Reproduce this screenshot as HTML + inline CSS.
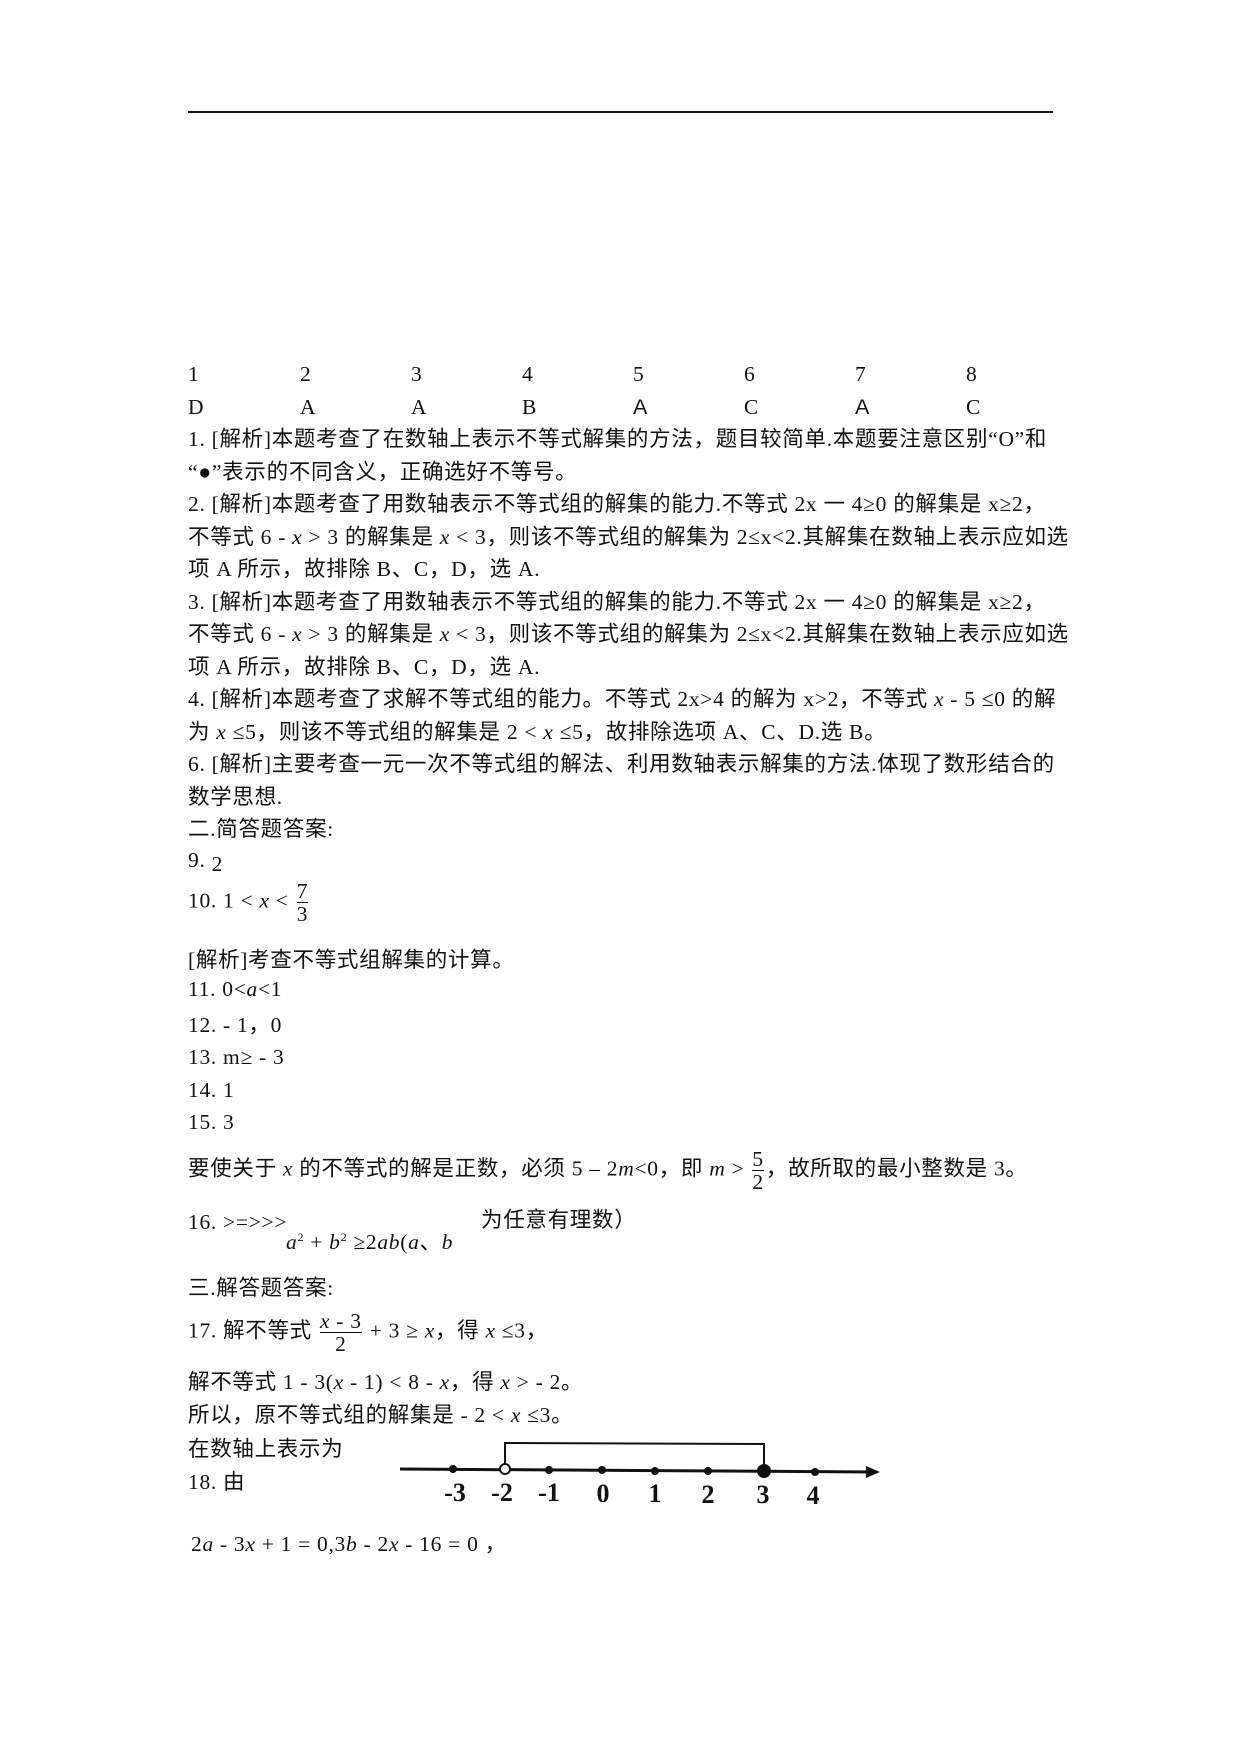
<!DOCTYPE html>
<html><head><meta charset="utf-8"><style>
body{margin:0;background:#fff;}
.pg{position:relative;width:1240px;height:1754px;overflow:hidden;font-family:"Liberation Serif","Noto Sans CJK SC",serif;font-size:21.5px;color:#111;}
.l{position:absolute;left:188px;white-space:nowrap;line-height:24px;letter-spacing:0.7px;}
.c{font-family:"Liberation Sans","Noto Sans CJK SC",sans-serif;}
i{font-style:italic;}
.fr{display:inline-block;vertical-align:middle;text-align:center;line-height:22px;margin:0 2px;}
.fr span{display:block;}
.fr .t{border-bottom:1px solid #111;}
</style></head><body><div class="pg">
<div style="position:absolute;left:188px;top:111px;width:865px;height:2px;background:#111"></div>

<div class="l" style="top:362px;left:188px">1</div>
<div class="l" style="top:362px;left:300px">2</div>
<div class="l" style="top:362px;left:411px">3</div>
<div class="l" style="top:362px;left:522px">4</div>
<div class="l" style="top:362px;left:633px">5</div>
<div class="l" style="top:362px;left:744px">6</div>
<div class="l" style="top:362px;left:855px">7</div>
<div class="l" style="top:362px;left:966px">8</div>
<div class="l" style="top:395px;left:188px">D</div>
<div class="l" style="top:395px;left:300px">A</div>
<div class="l" style="top:395px;left:411px">A</div>
<div class="l" style="top:395px;left:522px">B</div>
<div class="l c" style="top:395px;left:633px">A</div>
<div class="l" style="top:395px;left:744px">C</div>
<div class="l c" style="top:395px;left:855px">A</div>
<div class="l" style="top:395px;left:966px">C</div>

<div class="l" style="top:427px">1. [解析]本题考查了在数轴上表示不等式解集的方法，题目较简单.本题要注意区别“O”和</div>
<div class="l" style="top:460px">“●”表示的不同含义，正确选好不等号。</div>
<div class="l" style="top:492px">2. [解析]本题考查了用数轴表示不等式组的解集的能力.不等式 2x 一 4≥0 的解集是 x≥2，</div>
<div class="l" style="top:525px">不等式 6 - <i>x</i> &gt; 3 的解集是 <i>x</i> &lt; 3，则该不等式组的解集为 2≤x&lt;2.其解集在数轴上表示应如选</div>
<div class="l" style="top:557px">项 A 所示，故排除 B、C，D，选 A.</div>
<div class="l" style="top:590px">3. [解析]本题考查了用数轴表示不等式组的解集的能力.不等式 2x 一 4≥0 的解集是 x≥2，</div>
<div class="l" style="top:622px">不等式 6 - <i>x</i> &gt; 3 的解集是 <i>x</i> &lt; 3，则该不等式组的解集为 2≤x&lt;2.其解集在数轴上表示应如选</div>
<div class="l" style="top:655px">项 A 所示，故排除 B、C，D，选 A.</div>
<div class="l" style="top:687px">4. [解析]本题考查了求解不等式组的能力。不等式 2x&gt;4 的解为 x&gt;2，不等式 <i>x</i> - 5 ≤0 的解</div>
<div class="l" style="top:720px">为 <i>x</i> ≤5，则该不等式组的解集是 2 &lt; <i>x</i> ≤5，故排除选项 A、C、D.选 B。</div>
<div class="l" style="top:752px">6. [解析]主要考查一元一次不等式组的解法、利用数轴表示解集的方法.体现了数形结合的</div>
<div class="l" style="top:785px">数学思想.</div>
<div class="l" style="top:817px">二.简答题答案:</div>
<div class="l" style="top:848px">9. <span style="position:relative;top:4px">2</span></div>
<div class="l" style="top:880px;line-height:22px">10. 1 &lt; <i>x</i> &lt; <span class="fr"><span class="t">7</span><span>3</span></span></div>
<div class="l" style="top:948px">[解析]考查不等式组解集的计算。</div>
<div class="l" style="top:977px">11. 0&lt;<i>a</i>&lt;1</div>
<div class="l" style="top:1013px">12. - 1，0</div>
<div class="l" style="top:1045px">13. m≥ - 3</div>
<div class="l" style="top:1078px">14. 1</div>
<div class="l" style="top:1110px">15. 3</div>
<div class="l" style="top:1148px;line-height:22px">要使关于 <i>x</i> 的不等式的解是正数，必须 5 – 2<i>m</i>&lt;0，即 <i>m</i> &gt; <span class="fr"><span class="t">5</span><span>2</span></span>，故所取的最小整数是 3。</div>
<div class="l" style="top:1210px">16. &gt;=&gt;&gt;&gt;</div>
<div class="l" style="top:1225px;left:286px"><i>a</i><sup style="font-size:12px">2</sup> + <i>b</i><sup style="font-size:12px">2</sup> ≥2<i>ab</i>(<i>a</i>、<i>b</i></div>
<div class="l" style="top:1208px;left:481px">为任意有理数）</div>
<div class="l" style="top:1276px">三.解答题答案:</div>
<div class="l" style="top:1310px;line-height:22px">17. 解不等式 <span class="fr"><span class="t"><i>x</i> - 3</span><span>2</span></span> + 3 ≥ <i>x</i>，得 <i>x</i> ≤3，</div>
<div class="l" style="top:1370px">解不等式 1 - 3(<i>x</i> - 1) &lt; 8 - <i>x</i>，得 <i>x</i> &gt; - 2。</div>
<div class="l" style="top:1403px">所以，原不等式组的解集是 - 2 &lt; <i>x</i> ≤3。</div>
<div class="l" style="top:1437px">在数轴上表示为</div>
<div class="l" style="top:1470px">18. 由</div>
<div class="l" style="top:1532px;left:191px">2<i>a</i> - 3<i>x</i> + 1 = 0,3<i>b</i> - 2<i>x</i> - 16 = 0 ，</div>

<svg style="position:absolute;left:0;top:0" width="1240" height="1754">
<line x1="400" y1="1469" x2="874" y2="1472" stroke="#111" stroke-width="3"/>
<polygon points="880,1472 866,1466 866,1478" fill="#111"/>
<polyline points="505,1467 505,1443 764,1444 764,1467" fill="none" stroke="#111" stroke-width="2"/>
<g fill="#111">
<circle cx="453" cy="1469" r="4"/><circle cx="549" cy="1470" r="4"/><circle cx="602" cy="1470" r="4"/>
<circle cx="655" cy="1471" r="4"/><circle cx="708" cy="1471" r="4"/><circle cx="764" cy="1471" r="7"/><circle cx="815" cy="1472" r="4"/>
</g>
<circle cx="505" cy="1469" r="5" fill="#fff" stroke="#111" stroke-width="2"/>
<g font-family="Liberation Serif, serif" font-size="26" font-weight="bold" fill="#111" text-anchor="middle">
<text x="455" y="1501">-3</text><text x="502" y="1501">-2</text><text x="549" y="1501">-1</text><text x="603" y="1502">0</text>
<text x="655" y="1502">1</text><text x="708" y="1503">2</text><text x="763" y="1503">3</text><text x="813" y="1504">4</text>
</g>
</svg>
</div></body></html>
